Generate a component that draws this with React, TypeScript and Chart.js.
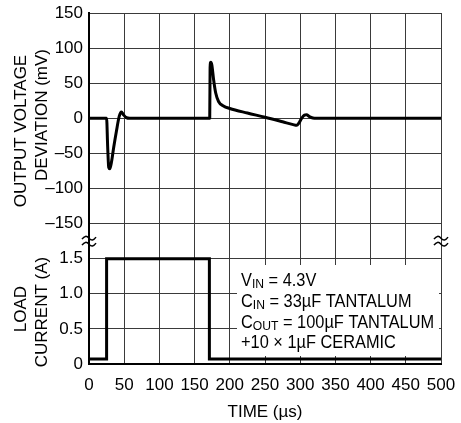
import React, { useEffect, useRef } from 'react';
import { Chart, registerables } from 'chart.js';

Chart.register(...registerables);

// Output voltage deviation trace (time in µs, deviation in mV)
const voltageTime = [0, 25, 26.5, 28, 29.5, 32, 35, 39, 43, 46, 49, 53, 58, 171.5, 172, 173, 174.5, 177, 180, 184, 191, 200, 225, 250, 275, 290, 295, 298, 302, 306, 309, 313, 318, 323, 500];
const voltageMv = [0, 0, -40, -70, -72, -62, -42, -18, 3, 9, 5, 1, 0, 0, 72, 80, 76, 55, 36, 24, 17.5, 14, 7.5, 1.5, -5, -9, -10, -7, 0, 4.5, 5, 2.5, 0.5, 0, 0];

// Load current trace (time in µs, current in A)
const currentTime = [0, 25, 25, 171, 171, 500];
const currentA = [0.07, 0.07, 1.5, 1.5, 0.07, 0.07];

// Tick labels
const timeTickLabels = ['0', '50', '100', '150', '200', '250', '300', '350', '400', '450', '500'];
const currentTickLabels = ['0', '0.5', '1.0', '1.5'];
const voltageTickLabels = ['–150', '–100', '–50', '0', '50', '100', '150'];

// Axis titles and note
const voltageTitle = ['OUTPUT VOLTAGE', 'DEVIATION (mV)'];
const currentTitle = ['LOAD', 'CURRENT (A)'];
const timeTitle = 'TIME (µs)';
const noteLines: [string, string, string][] = [
  ['V', 'IN', ' = 4.3V'],
  ['C', 'IN', ' = 33µF TANTALUM'],
  ['C', 'OUT', ' = 100µF TANTALUM'],
  ['+10 × 1µF CERAMIC', '', ''],
];

const FONT = "'Liberation Sans', Arial, sans-serif";

export default function App() {
  const ref = useRef<HTMLCanvasElement | null>(null);

  useEffect(() => {
    document.body.style.margin = '0';
    const canvas = ref.current;
    if (!canvas) return;

    const overlay = {
      id: 'overlay',
      beforeDatasetsDraw(chart: any) {
        const ctx = chart.ctx;
        ctx.save();
        ctx.fillStyle = '#fff';
        ctx.fillRect(237, 265, 202, 91);
        ctx.fillStyle = '#000';
        ctx.textBaseline = 'alphabetic';
        ctx.textAlign = 'left';
        const baselines = [286, 307, 328, 348];
        const sx = 0.935;
        noteLines.forEach((parts, i) => {
          ctx.save();
          ctx.translate(241, baselines[i]);
          ctx.scale(sx, 1);
          let x = 0;
          ctx.font = `17.5px ${FONT}`;
          ctx.fillText(parts[0], x, 0);
          x += ctx.measureText(parts[0]).width;
          if (parts[1]) {
            ctx.font = `13px ${FONT}`;
            ctx.fillText(parts[1], x, 2);
            x += ctx.measureText(parts[1]).width;
          }
          if (parts[2]) {
            ctx.font = `17.5px ${FONT}`;
            ctx.fillText(parts[2], x, 0);
          }
          ctx.restore();
        });
        ctx.restore();
      },
      afterDraw(chart: any) {
        const ctx = chart.ctx;
        const area = chart.chartArea;
        ctx.save();
        ctx.fillStyle = '#000';
        ctx.font = `17px ${FONT}`;
        ctx.textAlign = 'center';
        ctx.textBaseline = 'middle';
        const rot = (text: string, x: number, y: number) => {
          ctx.save();
          ctx.translate(x, y);
          ctx.rotate(-Math.PI / 2);
          ctx.fillText(text, 0, 0);
          ctx.restore();
        };
        rot(voltageTitle[0], 21, 131);
        rot(voltageTitle[1], 42, 115);
        rot(currentTitle[0], 21, 309);
        rot(currentTitle[1], 42, 312);
        ctx.fillText(timeTitle, (area.left + area.right) / 2, 412);
        // axis break marks
        const yv = chart.scales.yv;
        const yBreak = (yv.getPixelForValue(-200) + yv.getPixelForValue(-150)) / 2;
        ctx.strokeStyle = '#000';
        ctx.lineWidth = 1.5;
        const tilde = (cx: number, cy: number) => {
          ctx.beginPath();
          ctx.moveTo(cx - 7, cy + 1);
          ctx.quadraticCurveTo(cx - 3.5, cy - 4, cx, cy);
          ctx.quadraticCurveTo(cx + 3.5, cy + 4, cx + 7, cy - 1);
          ctx.stroke();
        };
        [area.left, area.right].forEach((cx: number) => {
          tilde(cx, yBreak - 3);
          tilde(cx, yBreak + 3);
        });
        ctx.restore();
      },
    };

    const chart = new Chart(canvas, {
      type: 'line',
      data: {
        datasets: [
          {
            label: 'Output voltage deviation',
            data: voltageTime.map((t, i) => ({ x: t, y: voltageMv[i] })),
            yAxisID: 'yv',
            borderColor: '#000',
            borderWidth: 3,
            pointRadius: 0,
            cubicInterpolationMode: 'monotone',
            borderJoinStyle: 'round',
            fill: false,
          },
          {
            label: 'Load current',
            data: currentTime.map((t, i) => ({ x: t, y: currentA[i] })),
            yAxisID: 'yi',
            borderColor: '#000',
            borderWidth: 3,
            pointRadius: 0,
            tension: 0,
            borderJoinStyle: 'miter',
            fill: false,
          },
        ],
      },
      options: {
        animation: false,
        responsive: false,
        maintainAspectRatio: false,
        layout: { padding: { left: 0, right: 20, top: 13, bottom: 0 } },
        plugins: { legend: { display: false }, tooltip: { enabled: false } },
        scales: {
          x: {
            type: 'linear',
            min: 0,
            max: 500,
            afterFit: (s: any) => {
              s.height = 59;
              s.paddingLeft = 0;
              s.paddingRight = 0;
              s.paddingTop = 0;
              s.paddingBottom = 0;
            },
            afterBuildTicks: (s: any) => {
              s.ticks = timeTickLabels.map((_, i) => ({ value: i * 50 }));
            },
            ticks: {
              autoSkip: false,
              maxRotation: 0,
              padding: 11,
              color: '#000',
              font: { family: FONT, size: 17 },
              callback: (_v: any, i: number) => timeTickLabels[i],
            },
            grid: { color: '#3a3a3a', lineWidth: 1, drawTicks: false },
            border: { color: '#000', width: 2 },
          },
          yv: {
            type: 'linear',
            position: 'left',
            min: -350,
            max: 150,
            afterFit: (s: any) => {
              s.width = 89;
              s.paddingLeft = 0;
              s.paddingRight = 0;
              s.paddingTop = 0;
              s.paddingBottom = 0;
            },
            afterBuildTicks: (s: any) => {
              const n = currentTickLabels.length + voltageTickLabels.length;
              s.ticks = Array.from({ length: n }, (_, i) => ({ value: -350 + i * 50 }));
            },
            ticks: {
              autoSkip: false,
              padding: 6,
              color: '#000',
              font: { family: FONT, size: 17 },
              callback: (_v: any, i: number) =>
                i < currentTickLabels.length
                  ? currentTickLabels[i]
                  : voltageTickLabels[i - currentTickLabels.length],
            },
            grid: { color: '#3a3a3a', lineWidth: 1, drawTicks: false },
            border: { color: '#000', width: 2 },
          },
          yi: {
            type: 'linear',
            display: false,
            min: 0,
            max: 5,
          },
        },
      },
      plugins: [overlay],
    } as any);

    return () => chart.destroy();
  }, []);

  return (
    <div style={{ position: 'absolute', left: 0, top: 0, width: 461, height: 423, background: '#fff' }}>
      <canvas ref={ref} width={461} height={423} />
    </div>
  );
}
